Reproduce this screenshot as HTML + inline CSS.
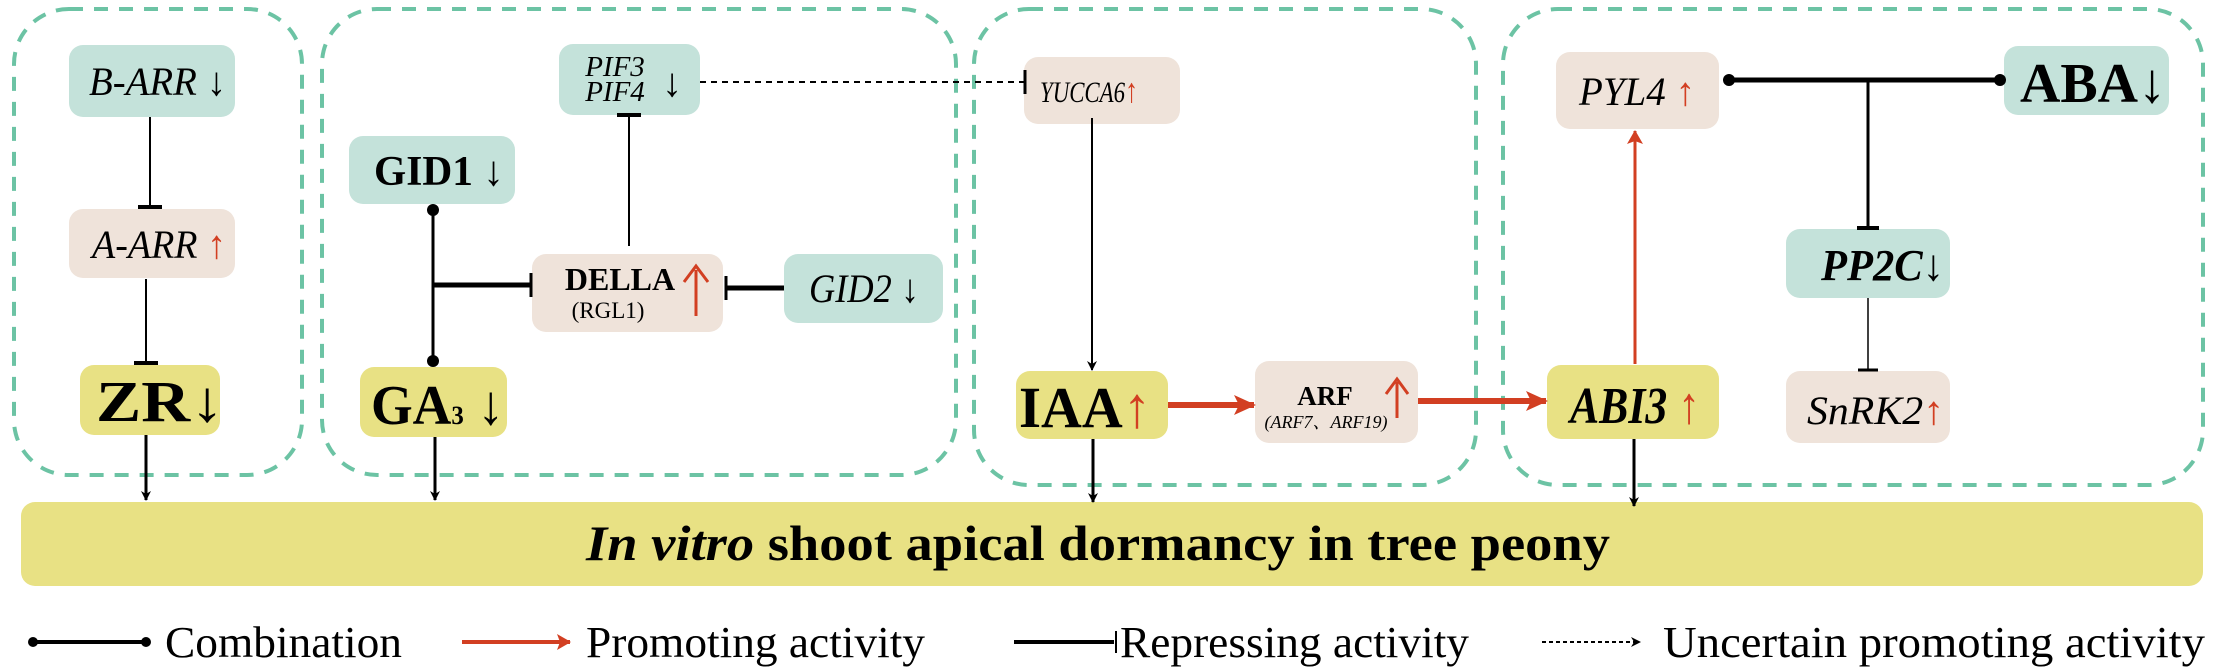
<!DOCTYPE html>
<html><head><meta charset="utf-8"><style>
html,body{margin:0;padding:0;background:#fff;width:2214px;height:672px;overflow:hidden}
svg text{font-family:"Liberation Serif","Noto Serif CJK SC",serif}
</style></head><body>
<svg width="2214" height="672" viewBox="0 0 2214 672" xmlns="http://www.w3.org/2000/svg">
<defs>
<marker id="ab" markerWidth="10" markerHeight="10" refX="9" refY="5" orient="auto" markerUnits="userSpaceOnUse"><path d="M0,0 L10,5 L0,10 L3,5 Z" fill="#000"/></marker>
<marker id="ar" markerWidth="22" markerHeight="20" refX="20" refY="10" orient="auto" markerUnits="userSpaceOnUse"><path d="M0,0 L22,10 L0,20 L5,10 Z" fill="#d23f22"/></marker>
<marker id="ar2" markerWidth="14" markerHeight="16" refX="13" refY="8" orient="auto" markerUnits="userSpaceOnUse"><path d="M0,0 L14,8 L0,16 L3,8 Z" fill="#d23f22"/></marker>
</defs>
<g fill="none" stroke="#6cc3a4" stroke-width="4" stroke-dasharray="14 11">
<rect x="14" y="9" width="288" height="466" rx="55"/>
<rect x="322" y="9" width="634" height="466" rx="55"/>
<rect x="974" y="9" width="502" height="476" rx="55"/>
<rect x="1503" y="9" width="700" height="476" rx="55"/>
</g>
<rect x="21" y="502" width="2182" height="84" rx="14" fill="#e8e184"/>
<text x="586" y="560" font-size="50" textLength="1024" lengthAdjust="spacingAndGlyphs"><tspan font-style="italic" font-weight="bold">In vitro</tspan><tspan font-weight="bold"> shoot apical dormancy in tree peony</tspan></text>
<g>
<rect x="69" y="45" width="166" height="72" rx="14" fill="#c4e2da"/>
<text x="89" y="95" font-size="40" font-style="italic" textLength="137" lengthAdjust="spacingAndGlyphs">B-ARR ↓</text>
<rect x="69" y="209" width="166" height="69" rx="14" fill="#efe3da"/>
<text x="92" y="258" font-size="40" font-style="italic" textLength="134" lengthAdjust="spacingAndGlyphs">A-ARR <tspan fill="#d23f22" font-style="normal">↑</tspan></text>
<rect x="80" y="365" width="140" height="70" rx="14" fill="#e8e184"/>
<text x="96" y="421" font-size="58" font-weight="bold" textLength="128" lengthAdjust="spacingAndGlyphs">ZR↓</text>

<rect x="349" y="136" width="166" height="68" rx="14" fill="#c4e2da"/>
<text x="374" y="185" font-size="42" font-weight="bold" textLength="130" lengthAdjust="spacingAndGlyphs">GID1<tspan font-weight="normal"> ↓</tspan></text>
<rect x="559" y="44" width="141" height="71" rx="14" fill="#c4e2da"/>
<text x="615" y="76" font-size="29" font-style="italic" text-anchor="middle">PIF3</text>
<text x="615" y="101" font-size="29" font-style="italic" text-anchor="middle">PIF4</text>
<text x="672" y="96" font-size="40" text-anchor="middle">↓</text>
<rect x="532" y="254" width="191" height="78" rx="14" fill="#efe3da"/>
<text x="620" y="290" font-size="32" font-weight="bold" text-anchor="middle">DELLA</text>
<text x="608" y="318" font-size="23" text-anchor="middle">(RGL1)</text>
<line x1="696" y1="316" x2="696" y2="270" stroke="#d23f22" stroke-width="3"/>
<path d="M684,282 L696,266 L708,282" fill="none" stroke="#d23f22" stroke-width="3"/>
<rect x="784" y="254" width="159" height="69" rx="14" fill="#c4e2da"/>
<text x="809" y="302" font-size="40" font-style="italic" textLength="110" lengthAdjust="spacingAndGlyphs">GID2 <tspan font-style="normal">↓</tspan></text>
<rect x="360" y="367" width="147" height="70" rx="14" fill="#e8e184"/>
<text x="371" y="424" font-size="56" font-weight="bold" textLength="133" lengthAdjust="spacingAndGlyphs">GA<tspan font-size="26">3</tspan><tspan font-weight="normal"> ↓</tspan></text>

<rect x="1024" y="57" width="156" height="67" rx="14" fill="#efe3da"/>
<text x="1040" y="102" font-size="30" font-style="italic" textLength="98" lengthAdjust="spacingAndGlyphs">YUCCA6<tspan fill="#d23f22" font-style="normal" font-size="34">↑</tspan></text>
<rect x="1016" y="371" width="152" height="68" rx="14" fill="#e8e184"/>
<text x="1019" y="427" font-size="58" font-weight="bold" textLength="132" lengthAdjust="spacingAndGlyphs">IAA<tspan fill="#d23f22" font-weight="normal">↑</tspan></text>
<rect x="1255" y="361" width="163" height="82" rx="14" fill="#efe3da"/>
<text x="1325" y="405" font-size="27" font-weight="bold" text-anchor="middle">ARF</text>
<text x="1326" y="428" font-size="18" font-style="italic" text-anchor="middle">(ARF7、ARF19)</text>
<line x1="1397" y1="418" x2="1397" y2="382" stroke="#d23f22" stroke-width="3"/>
<path d="M1386,394 L1397,379 L1408,394" fill="none" stroke="#d23f22" stroke-width="3"/>
<rect x="1547" y="365" width="172" height="74" rx="14" fill="#e8e184"/>
<text x="1570" y="423" font-size="52" font-weight="bold" font-style="italic" textLength="130" lengthAdjust="spacingAndGlyphs">ABI3<tspan fill="#d23f22" font-weight="normal" font-style="normal"> ↑</tspan></text>

<rect x="1556" y="52" width="163" height="77" rx="14" fill="#efe3da"/>
<text x="1579" y="105" font-size="40" font-style="italic" textLength="116" lengthAdjust="spacingAndGlyphs">PYL4 <tspan fill="#d23f22" font-style="normal">↑</tspan></text>
<rect x="2004" y="46" width="165" height="69" rx="14" fill="#c4e2da"/>
<text x="2020" y="102" font-size="56" font-weight="bold" textLength="146" lengthAdjust="spacingAndGlyphs">ABA<tspan font-weight="normal">↓</tspan></text>
<rect x="1786" y="229" width="164" height="69" rx="14" fill="#c4e2da"/>
<text x="1821" y="280" font-size="44" font-weight="bold" font-style="italic" textLength="123" lengthAdjust="spacingAndGlyphs">PP2C<tspan font-weight="normal" font-style="normal">↓</tspan></text>
<rect x="1786" y="371" width="164" height="72" rx="14" fill="#efe3da"/>
<text x="1807" y="424" font-size="40" font-style="italic" textLength="137" lengthAdjust="spacingAndGlyphs">SnRK2<tspan fill="#d23f22" font-style="normal">↑</tspan></text>
</g>
<g stroke="#000" fill="none">
<line x1="150" y1="117" x2="150" y2="207" stroke-width="2"/><line x1="138" y1="207" x2="162" y2="207" stroke-width="4"/>
<line x1="146" y1="279" x2="146" y2="363" stroke-width="2"/><line x1="134" y1="363" x2="158" y2="363" stroke-width="4"/>
<line x1="433" y1="210" x2="433" y2="361" stroke-width="3"/>
<line x1="433" y1="285" x2="530" y2="285" stroke-width="5"/><line x1="531" y1="273" x2="531" y2="297" stroke-width="3"/>
<line x1="629" y1="246" x2="629" y2="115" stroke-width="2"/><line x1="617" y1="115" x2="641" y2="115" stroke-width="4"/>
<line x1="726" y1="288" x2="784" y2="288" stroke-width="5"/><line x1="726" y1="276" x2="726" y2="300" stroke-width="3"/>
<line x1="700" y1="82" x2="1024" y2="82" stroke-width="2" stroke-dasharray="6 5"/><line x1="1025" y1="70" x2="1025" y2="94" stroke-width="3"/>
<line x1="1092" y1="118" x2="1092" y2="370" stroke-width="2" marker-end="url(#ab)"/>
<line x1="1729" y1="80" x2="2000" y2="80" stroke-width="5"/>
<line x1="1868" y1="80" x2="1868" y2="228" stroke-width="3"/><line x1="1857" y1="228" x2="1879" y2="228" stroke-width="4"/>
<line x1="1868" y1="298" x2="1868" y2="370" stroke-width="1.5"/><line x1="1858" y1="370" x2="1878" y2="370" stroke-width="3"/>
<line x1="146" y1="435" x2="146" y2="500" stroke-width="3" marker-end="url(#ab)"/>
<line x1="435" y1="437" x2="435" y2="500" stroke-width="3" marker-end="url(#ab)"/>
<line x1="1093" y1="439" x2="1093" y2="502" stroke-width="3" marker-end="url(#ab)"/>
<line x1="1634" y1="439" x2="1634" y2="506" stroke-width="3" marker-end="url(#ab)"/>
</g>
<circle cx="433" cy="210" r="6"/><circle cx="433" cy="361" r="6"/>
<circle cx="1729" cy="80" r="6"/><circle cx="2000" cy="80" r="6"/>
<g stroke="#d23f22" fill="none">
<line x1="1168" y1="405" x2="1254" y2="405" stroke-width="6" marker-end="url(#ar)"/>
<line x1="1418" y1="401" x2="1546" y2="401" stroke-width="6" marker-end="url(#ar)"/>
<line x1="1635" y1="364" x2="1635" y2="131" stroke-width="3" marker-end="url(#ar2)"/>
</g>
<g stroke="#000">
<line x1="33" y1="642" x2="146" y2="642" stroke-width="4"/>
<line x1="1014" y1="642" x2="1114" y2="642" stroke-width="4"/><line x1="1116" y1="631" x2="1116" y2="653" stroke-width="2"/>
<line x1="1542" y1="642" x2="1640" y2="642" stroke-width="2" stroke-dasharray="4 3" marker-end="url(#ab)"/>
</g>
<circle cx="33" cy="642" r="5"/><circle cx="146" cy="642" r="5"/>
<line x1="462" y1="642" x2="570" y2="642" stroke="#d23f22" stroke-width="4" marker-end="url(#ar2)"/>
<g font-size="44">
<text x="165" y="657" textLength="237" lengthAdjust="spacingAndGlyphs">Combination</text>
<text x="586" y="657" textLength="339" lengthAdjust="spacingAndGlyphs">Promoting activity</text>
<text x="1120" y="657" textLength="349" lengthAdjust="spacingAndGlyphs">Repressing activity</text>
<text x="1663" y="657" textLength="542" lengthAdjust="spacingAndGlyphs">Uncertain promoting activity</text>
</g>
</svg>
</body></html>
